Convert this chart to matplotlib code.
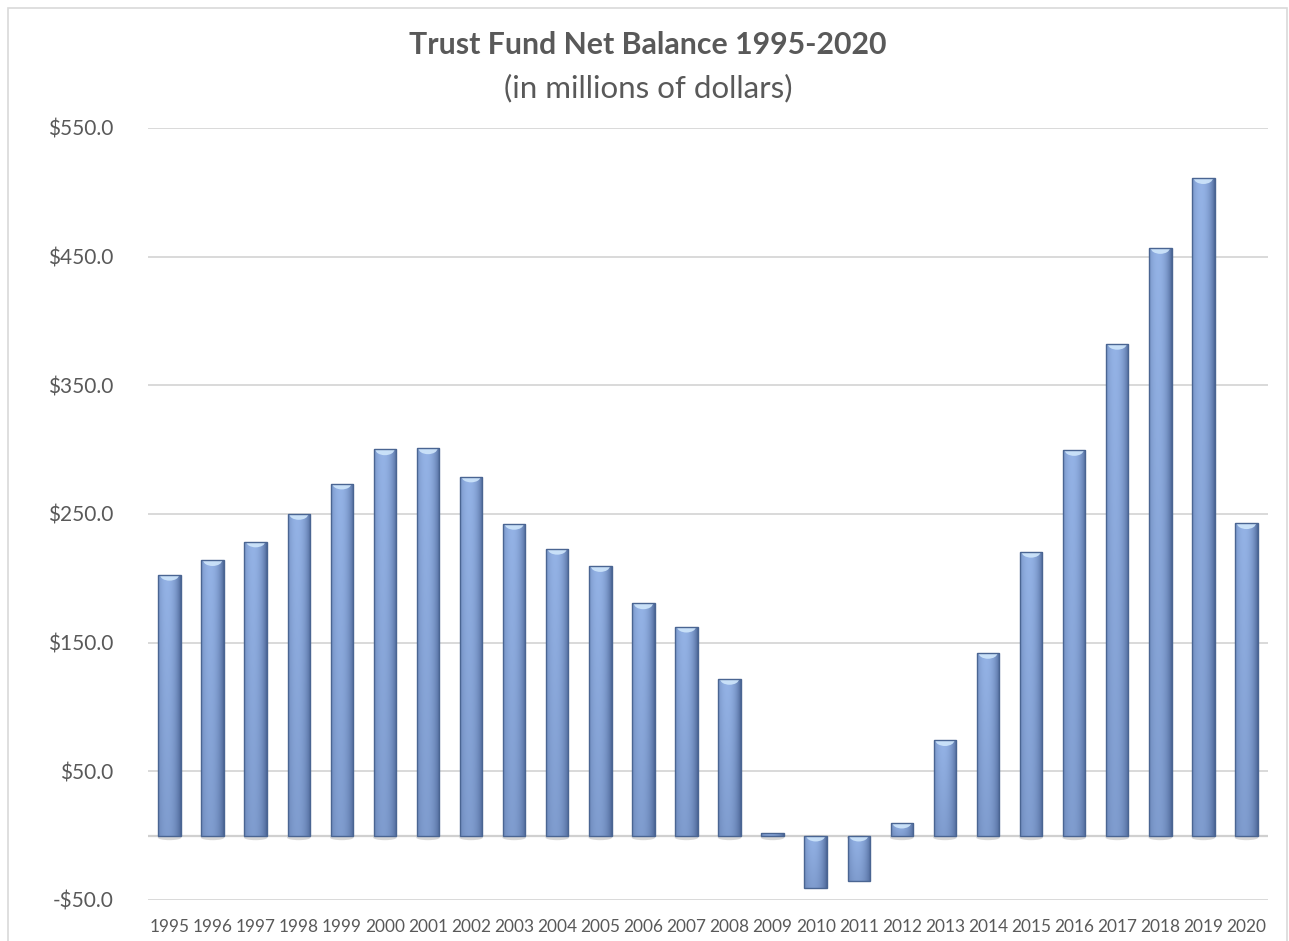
import numpy as np
import matplotlib
matplotlib.use("Agg")
import matplotlib.pyplot as plt
from matplotlib.patches import Rectangle, Ellipse

years = [str(y) for y in range(1995, 2021)]
balances = [202.7, 214.1, 228.6, 250.0, 273.6, 300.2, 301.0, 279.1, 242.3, 222.9,
            209.5, 180.5, 162.4, 121.8, 2.3, -40.6, -35.4, 10.1, 74.2, 142.0,
            220.6, 299.7, 382.2, 456.7, 511.0, 242.8]
yticks = [-50, 50, 150, 250, 350, 450, 550]
ytick_labels = ["-$50.0", "$50.0", "$150.0", "$250.0", "$350.0", "$450.0", "$550.0"]
title = "Trust Fund Net Balance 1995-2020"
subtitle = "(in millions of dollars)"

plt.rcParams['font.family'] = ['Lato', 'DejaVu Sans']
TXT = "#595959"

fig = plt.figure(figsize=(12.89, 9.41), dpi=100)
ax = fig.add_axes([148/1289, 1-900/941, 1120/1289, (900-128)/941])

x = np.arange(len(years))
ax.set_xlim(-0.5, len(years) - 0.5)
ax.set_ylim(-50, 550)

# gridlines
for t in yticks:
    ax.axhline(t, color="#d9d9d9", lw=1.4, zorder=0)
ax.axhline(0, color="#d0d0d0", lw=1.6, zorder=0)

width = 0.52
bars = ax.bar(x, balances, width=width, facecolor="none", edgecolor="#4a6592",
              linewidth=1.0, zorder=3)

# gradient image
nu, nv = 64, 128
u = np.linspace(0, 1, nu)
v = np.linspace(0, 1, nv)  # 0 = top row
U, V = np.meshgrid(u, v)
light = np.array([0.58, 0.70, 0.90])
dark = np.array([0.29, 0.39, 0.58])
f = np.clip(1 - ((U - 0.40) / 0.60) ** 2, 0, 1) ** 0.8
g = 0.72 + 0.28 * (1 - V)
mix = (f * g)[..., None]
img = dark + (light - dark) * mix

for rect, val in zip(bars.patches, balances):
    x0 = rect.get_x()
    x1 = x0 + rect.get_width()
    y0 = min(0, val)
    y1 = max(0, val)
    im = ax.imshow(img, extent=(x0, x1, y0, y1), aspect="auto", zorder=2,
                   interpolation="bilinear")
    im.set_clip_path(rect)
    # shadow beneath at the baseline
    sh = Ellipse((rect.get_x() + rect.get_width() / 2, -1.5), rect.get_width() * 1.05, 4,
                 facecolor="#bfbfbf", edgecolor="none", alpha=0.6, zorder=1)
    ax.add_patch(sh)
    # light cap at top edge
    if abs(val) > 4:
        cap = Ellipse((rect.get_x() + rect.get_width() / 2, y1), rect.get_width() * 0.85, 9,
                      facecolor="#cfe6fb", edgecolor="none", alpha=0.9, zorder=2.5)
        ax.add_patch(cap)
        cap.set_clip_path(rect)

ax.set_xticks(x)
ax.set_xticklabels(years, fontsize=12.4, color=TXT)
ax.set_yticks(yticks)
ax.set_yticklabels(ytick_labels, fontsize=15, color=TXT)
ax.tick_params(axis="both", length=0)
ax.tick_params(axis="x", pad=14)
ax.tick_params(axis="y", pad=25)
for s in ax.spines.values():
    s.set_visible(False)

fig.text(648/1289, 1-45/941, title, ha="center", va="center", fontsize=21.8,
         fontweight="bold", color=TXT)
fig.text(648/1289, 1-88/941, subtitle, ha="center", va="center", fontsize=22.5,
         color=TXT)

# chart border
fig.add_artist(Rectangle((8/1289, -0.01), (1287-8)/1289, 1 - 8/941 + 0.01,
                         transform=fig.transFigure, fill=False,
                         edgecolor="#d9d9d9", lw=1.2))

fig.savefig("out.png", dpi=100, facecolor="white")
